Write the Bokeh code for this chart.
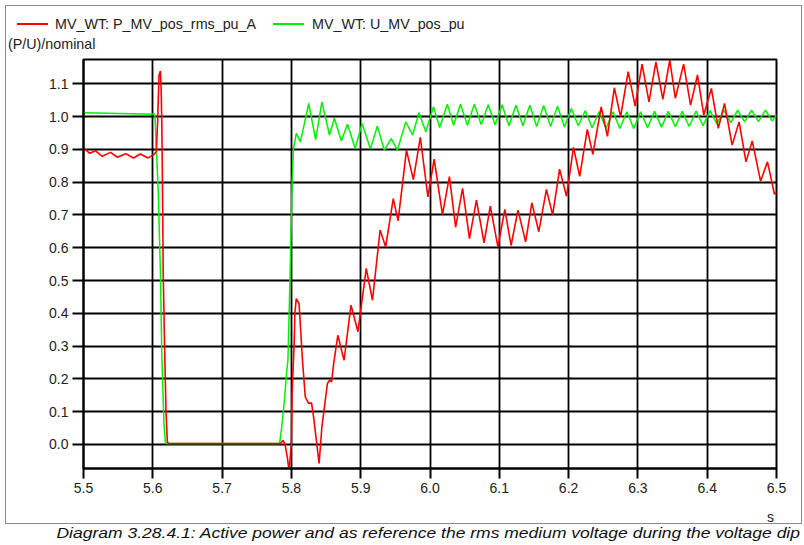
from bokeh.plotting import figure
from bokeh.layouts import column
from bokeh.models import (Range1d, FixedTicker, Div, NumeralTickFormatter)
from bokeh.embed import file_html
from bokeh.resources import INLINE

# ---------------- data ----------------
x_ticks = [5.5, 5.6, 5.7, 5.8, 5.9, 6.0, 6.1, 6.2, 6.3, 6.4, 6.5]
y_ticks = [0.0, 0.1, 0.2, 0.3, 0.4, 0.5, 0.6, 0.7, 0.8, 0.9, 1.0, 1.1]

legend_labels = ["MV_WT: P_MV_pos_rms_pu_A", "MV_WT: U_MV_pos_pu"]
y_title = "(P/U)/nominal"
x_title = "s"
caption = ("Diagram 3.28.4.1: Active power and as reference the rms medium "
           "voltage during the voltage dip")

# active power P (red)
t_p = [5.500, 5.509, 5.517, 5.527, 5.539, 5.549, 5.561, 5.572, 5.582, 5.593,
       5.602, 5.605, 5.607, 5.608, 5.609, 5.611, 5.612, 5.613, 5.614, 5.615,
       5.617, 5.619, 5.621, 5.623, 5.784, 5.788, 5.791, 5.794, 5.796, 5.797,
       5.800, 5.801, 5.803, 5.804, 5.805, 5.807, 5.811, 5.816, 5.820, 5.825,
       5.829, 5.832, 5.840, 5.844, 5.852, 5.855, 5.858, 5.861, 5.867, 5.876,
       5.886, 5.896, 5.908, 5.917, 5.928, 5.936, 5.947, 5.954, 5.966, 5.976,
       5.986, 5.997, 6.006, 6.018, 6.028, 6.037, 6.047, 6.057, 6.067, 6.078,
       6.087, 6.098, 6.108, 6.117, 6.127, 6.138, 6.147, 6.157, 6.168, 6.177,
       6.187, 6.197, 6.207, 6.216, 6.227, 6.235, 6.247, 6.256, 6.266, 6.275,
       6.286, 6.296, 6.306, 6.316, 6.326, 6.336, 6.346, 6.354, 6.366, 6.376,
       6.386, 6.395, 6.406, 6.416, 6.425, 6.436, 6.446, 6.456, 6.465, 6.477,
       6.487, 6.497, 6.500]
v_p = [0.905, 0.888, 0.896, 0.879, 0.891, 0.876, 0.887, 0.874, 0.886, 0.874,
       0.885, 0.893, 0.984, 1.060, 1.127, 1.139, 1.086, 0.984, 0.780, 0.527,
       0.303, 0.105, 0.008, 0.003, 0.003, 0.013, -0.002, -0.038, -0.068, -0.070,
       0.003, 0.156, 0.257, 0.308, 0.400, 0.445, 0.430, 0.257, 0.145, 0.125,
       0.127, 0.084, -0.058, 0.054, 0.186, 0.196, 0.191, 0.247, 0.333, 0.257,
       0.425, 0.344, 0.537, 0.440, 0.654, 0.603, 0.750, 0.682, 0.898, 0.808,
       0.937, 0.755, 0.870, 0.701, 0.817, 0.663, 0.781, 0.628, 0.745, 0.615,
       0.727, 0.603, 0.717, 0.607, 0.715, 0.618, 0.737, 0.649, 0.778, 0.700,
       0.840, 0.757, 0.906, 0.818, 0.961, 0.885, 1.030, 0.940, 1.088, 0.999,
       1.137, 1.032, 1.160, 1.045, 1.167, 1.053, 1.172, 1.056, 1.160, 1.035,
       1.127, 1.005, 1.086, 0.964, 1.040, 0.913, 0.984, 0.862, 0.926, 0.803,
       0.862, 0.764, 0.768]

# medium voltage U (green)
t_u = [5.500, 5.603, 5.605, 5.608, 5.611, 5.613, 5.616, 5.618, 5.620, 5.783,
       5.786, 5.790, 5.793, 5.795, 5.799, 5.801, 5.803, 5.807, 5.813, 5.825,
       5.835, 5.844, 5.855, 5.862, 5.872, 5.881, 5.892, 5.902, 5.914, 5.924,
       5.934, 5.944, 5.953, 5.965, 5.975, 5.984, 5.994, 6.005, 6.014, 6.025,
       6.034, 6.044, 6.054, 6.064, 6.074, 6.084, 6.094, 6.104, 6.114, 6.124,
       6.134, 6.144, 6.154, 6.164, 6.174, 6.184, 6.194, 6.204, 6.214, 6.224,
       6.234, 6.244, 6.254, 6.264, 6.274, 6.284, 6.294, 6.304, 6.314, 6.324,
       6.334, 6.344, 6.354, 6.364, 6.374, 6.384, 6.394, 6.404, 6.414, 6.424,
       6.434, 6.444, 6.454, 6.464, 6.474, 6.484, 6.494, 6.500]
v_u = [1.012, 1.007, 0.913, 0.760, 0.527, 0.272, 0.069, 0.008, 0.003, 0.003,
       0.054, 0.135, 0.217, 0.257, 0.593, 0.797, 0.900, 0.949, 0.923, 1.040,
       0.930, 1.045, 0.944, 0.995, 0.926, 0.977, 0.903, 0.979, 0.901, 0.971,
       0.898, 0.933, 0.898, 0.984, 0.944, 1.012, 0.954, 1.030, 0.967, 1.038,
       0.974, 1.038, 0.974, 1.038, 0.975, 1.036, 0.975, 1.036, 0.972, 1.035,
       0.972, 1.035, 0.970, 1.034, 0.970, 1.032, 0.968, 1.025, 0.972, 1.018,
       0.966, 1.015, 0.964, 1.015, 0.964, 1.015, 0.964, 1.015, 0.966, 1.016,
       0.968, 1.016, 0.969, 1.016, 0.970, 1.017, 0.972, 1.018, 0.978, 1.020,
       0.982, 1.020, 0.984, 1.020, 0.985, 1.020, 0.986, 1.005]

# ---------------- styling constants ----------------
FONT = "Liberation Sans"
TXT = "#222222"
RED = "#ff0000"
GREEN = "#00f000"

# ---------------- header (legend + unit label) as HTML ----------------
def swatch(left, color):
    return ('<span style="position:absolute; left:%dpx; top:17px; width:31px; '
            'height:0; border-top:2px solid %s;"></span>' % (left, color))

def txt(left, top, s):
    return ('<span style="position:absolute; left:%dpx; top:%dpx; '
            'line-height:16px; white-space:nowrap;">%s</span>' % (left, top, s))

header_html = (
    '<div style="position:relative; width:795px; height:48px; '
    'font-family:\'Liberation Sans\'; font-size:14.3px; color:%s;">' % TXT
    + swatch(11, RED) + txt(49, 10, legend_labels[0])
    + swatch(267, GREEN) + txt(306, 10, legend_labels[1])
    + txt(2, 30, y_title)
    + '</div>')
head = Div(text=header_html, width=795, height=48, margin=0)

# ---------------- main plot ----------------
p = figure(width=795, height=451, output_backend="svg", toolbar_location=None,
           x_range=Range1d(5.5, 6.5), y_range=Range1d(-0.0732, 1.1742),
           min_border_left=77, min_border_right=25, min_border_top=5,
           min_border_bottom=37)
p.margin = 0
p.background_fill_color = "white"
p.border_fill_color = "white"
p.outline_line_color = "black"
p.outline_line_width = 2

for ax, ticks in ((p.xaxis, x_ticks), (p.yaxis, y_ticks)):
    ax.ticker = FixedTicker(ticks=ticks)
    ax.formatter = NumeralTickFormatter(format="0.0")
    ax.minor_tick_line_color = None
    ax.major_tick_in = 0
    ax.major_tick_line_color = "black"
    ax.major_tick_line_width = 2
    ax.axis_line_color = "black"
    ax.axis_line_width = 2
    ax.major_label_text_font = FONT
    ax.major_label_text_font_size = "14px"
    ax.major_label_text_color = TXT
p.xaxis.major_tick_out = 10
p.xaxis.major_label_standoff = 4
p.yaxis.major_tick_out = 11
p.yaxis.major_label_standoff = 4

p.xgrid.ticker = FixedTicker(ticks=x_ticks)
p.ygrid.ticker = FixedTicker(ticks=y_ticks)
for g in (p.xgrid, p.ygrid):
    g.grid_line_color = "black"
    g.grid_line_width = 1.8
    g.grid_line_alpha = 1.0

p.line(t_u, v_u, line_color=GREEN, line_width=1.5)
p.line(t_p, v_p, line_color=RED, line_width=1.6)

# x unit label ("s") below the axis, right side
s_html = ('<div style="position:relative; width:795px; height:18px; '
          'font-family:\'Liberation Sans\'; font-size:14px; color:%s;">'
          '<span style="position:absolute; left:761px; top:4px; '
          'line-height:16px;">%s</span></div>' % (TXT, x_title))
s_div = Div(text=s_html, width=795, height=18, margin=0)

boxed = column(head, p, s_div, spacing=0, margin=(5, 0, 0, 5),
               styles={"border": "1px solid #8a8a8a"})

cap = Div(text=caption, width=800, height=15, margin=(2, 0, 0, 0),
          styles={"font-family": "Liberation Sans", "font-size": "14px",
                  "font-style": "italic", "color": "#111111",
                  "text-align": "right", "white-space": "nowrap",
                  "line-height": "15px",
                  "transform": "scaleX(1.25)",
                  "transform-origin": "100% 50%"})

layout = column(boxed, cap, spacing=0)
open("out.html", "w").write(file_html(layout, INLINE))
